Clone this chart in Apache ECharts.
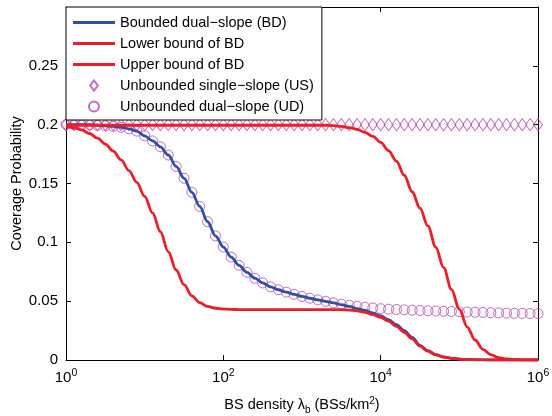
<!DOCTYPE html>
<html>
<head>
<meta charset="utf-8">
<script src="https://cdn.jsdelivr.net/npm/echarts@6/dist/echarts.min.js"></script>
<style>
  html, body { margin: 0; padding: 0; background: #fff; }
  #chart { width: 552px; height: 416px; }
</style>
</head>
<body>
<div id="chart"></div>
<script>
// BS density grid, as log10 exponents (one point every 0.1 decade)
const densityExp = [
  0, 0.1, 0.2, 0.3, 0.4, 0.5, 0.6, 0.7, 0.8, 0.9,
  1, 1.1, 1.2, 1.3, 1.4, 1.5, 1.6, 1.7, 1.8, 1.9,
  2, 2.1, 2.2, 2.3, 2.4, 2.5, 2.6, 2.7, 2.8, 2.9,
  3, 3.1, 3.2, 3.3, 3.4, 3.5, 3.6, 3.7, 3.8, 3.9,
  4, 4.1, 4.2, 4.3, 4.4, 4.5, 4.6, 4.7, 4.8, 4.9,
  5, 5.1, 5.2, 5.3, 5.4, 5.5, 5.6, 5.7, 5.8, 5.9,
  6
];

const boundedDual = [
  0.2, 0.2, 0.2, 0.2, 0.1995, 0.199, 0.1985, 0.1978, 0.1965, 0.1945,
  0.1905, 0.1862, 0.1812, 0.1742, 0.1645, 0.1545, 0.1425, 0.1305, 0.1175, 0.1055,
  0.096, 0.0875, 0.0805, 0.0745, 0.0695, 0.0655, 0.0622, 0.0597, 0.0577, 0.0558,
  0.054, 0.0525, 0.0511, 0.0498, 0.0486, 0.047, 0.0455, 0.0437, 0.0422, 0.04,
  0.0375, 0.0343, 0.03, 0.025, 0.0192, 0.0125, 0.008, 0.0046, 0.0026, 0.0014,
  0.0008, 0.0004, 0.0002, 0.0001, 0, 0, 0, 0, 0, 0,
  0
];

const lowerBound = [
  0.1985, 0.1975, 0.1955, 0.1925, 0.1885, 0.1835, 0.1775, 0.17, 0.161, 0.151,
  0.139, 0.125, 0.109, 0.092, 0.0765, 0.064, 0.0545, 0.0488, 0.0455, 0.044,
  0.0433, 0.043, 0.0428, 0.0428, 0.0428, 0.0428, 0.0428, 0.0428, 0.0428, 0.0428,
  0.0428, 0.0428, 0.0428, 0.0428, 0.0428, 0.0428, 0.0424, 0.0418, 0.0405, 0.0385,
  0.0362, 0.033, 0.0285, 0.0235, 0.018, 0.0118, 0.0075, 0.0044, 0.0025, 0.0014,
  0.0008, 0.0004, 0.0002, 0.0001, 0, 0, 0, 0, 0, 0,
  0
];

const upperBound = [
  0.1995, 0.1995, 0.1995, 0.1995, 0.1995, 0.1995, 0.1995, 0.1995, 0.1995, 0.1995,
  0.1995, 0.1995, 0.1995, 0.1995, 0.1995, 0.1995, 0.1995, 0.1995, 0.1995, 0.1995,
  0.1995, 0.1995, 0.1995, 0.1995, 0.1995, 0.1995, 0.1995, 0.1995, 0.1995, 0.1995,
  0.1995, 0.1995, 0.1995, 0.1995, 0.1992, 0.1985, 0.1975, 0.196, 0.1935, 0.19,
  0.185, 0.178, 0.169, 0.157, 0.143, 0.129, 0.114, 0.096, 0.0785, 0.06,
  0.043, 0.028, 0.017, 0.009, 0.0045, 0.002, 0.0009, 0.0004, 0.0001, 0,
  0
];

const unboundedSingle = [
  0.2, 0.2, 0.2, 0.2, 0.2, 0.2, 0.2, 0.2, 0.2, 0.2,
  0.2, 0.2, 0.2, 0.2, 0.2, 0.2, 0.2, 0.2, 0.2, 0.2,
  0.2, 0.2, 0.2, 0.2, 0.2, 0.2, 0.2, 0.2, 0.2, 0.2,
  0.2, 0.2, 0.2, 0.2, 0.2, 0.2, 0.2, 0.2, 0.2, 0.2,
  0.2, 0.2, 0.2, 0.2, 0.2, 0.2, 0.2, 0.2, 0.2, 0.2,
  0.2, 0.2, 0.2, 0.2, 0.2, 0.2, 0.2, 0.2, 0.2, 0.2,
  0.2
];

const unboundedDual = [
  0.2, 0.2, 0.2, 0.2, 0.1995, 0.199, 0.1985, 0.1978, 0.1965, 0.1945,
  0.1905, 0.1862, 0.1812, 0.1742, 0.1645, 0.1545, 0.1425, 0.1305, 0.1175, 0.1055,
  0.096, 0.0875, 0.0805, 0.0745, 0.0695, 0.0655, 0.0622, 0.0597, 0.0577, 0.0558,
  0.054, 0.0525, 0.0511, 0.0498, 0.0486, 0.0475, 0.0465, 0.0456, 0.0448, 0.0442,
  0.0436, 0.0432, 0.0429, 0.0426, 0.0423, 0.0421, 0.0418, 0.0416, 0.0414, 0.0412,
  0.041, 0.0408, 0.0406, 0.0404, 0.0402, 0.04, 0.0399, 0.0397, 0.0396, 0.0395,
  0.0394
];

const xTickValues = [1, 100, 10000, 1000000];
const yTickValues = [0, 0.05, 0.1, 0.15, 0.2, 0.25];

const FONT = 'Liberation Sans, Arial, sans-serif';
const RED = '#ee1c25';
const BLUE = '#2f4fa4';
const MAGENTA = '#b448b0';

// legend samples: flat bar for the lines, upright diamond for US
const LINE_ICON = 'path://M0,0 L42,0 L42,3 L0,3 Z';
const DIAMOND_ICON = 'path://M5,0 L10,6.5 L5,13 L0,6.5 Z';
const CIRCLE_ICON = 'path://M5,0 A5,5 0 1,1 4.99,0 Z';

const pairs = (vals) => vals.map((v, i) => [Math.pow(10, densityExp[i]), v]);

const myChart = echarts.init(document.getElementById('chart'), null, { renderer: 'canvas' });

const lineSeries = (name, vals, color) => ({
  name,
  type: 'line',
  data: pairs(vals),
  showSymbol: false,
  symbol: 'none',
  smooth: 0.35,
  smoothMonotone: 'x',
  lineStyle: { color, width: 2.8 },
  itemStyle: { color },
  xAxisIndex: 0,
  yAxisIndex: 0
});

const option = {
  animation: false,
  backgroundColor: '#fff',
  textStyle: { fontFamily: FONT },
  grid: { left: 66, right: 14, top: 7, bottom: 56, containLabel: false, outerBoundsMode: 'none' },
  legend: {
    orient: 'vertical',
    left: 66,
    top: 7,
    padding: [8, 8, 6, 7],
    itemWidth: 42,
    itemHeight: 10,
    itemGap: 6,
    backgroundColor: '#fff',
    borderColor: '#000',
    borderWidth: 1,
    borderRadius: 0,
    textStyle: { fontFamily: FONT, fontSize: 14.5, color: '#000', lineHeight: 13.5 },
    data: [
      { name: 'Bounded dual−slope (BD)', icon: LINE_ICON },
      { name: 'Lower bound of BD', icon: LINE_ICON },
      { name: 'Upper bound of BD', icon: LINE_ICON },
      { name: 'Unbounded single−slope (US)', icon: DIAMOND_ICON },
      { name: 'Unbounded dual−slope (UD)', icon: CIRCLE_ICON }
    ]
  },
  xAxis: [
    {
      type: 'log',
      logBase: 10,
      min: 1,
      max: 1000000,
      position: 'bottom',
      name: '{t|BS density λ}{sub|b}{t| (BSs/km}{sup|2}{t|)}',
      nameLocation: 'middle',
      nameGap: 35,
      nameMoveOverlap: false,
      nameTextStyle: {
        rich: {
          t: { fontFamily: FONT, fontSize: 14.5, color: '#000' },
          sub: { fontFamily: FONT, fontSize: 10, color: '#000', padding: [10, 0, 0, 0] },
          sup: { fontFamily: FONT, fontSize: 10, color: '#000', padding: [0, 0, 8, 0] }
        }
      },
      axisLine: { show: true, lineStyle: { color: '#000', width: 1 } },
      axisTick: { show: true, inside: true, length: 5, customValues: xTickValues, lineStyle: { color: '#000' } },
      minorTick: { show: false },
      splitLine: { show: false },
      axisLabel: {
        customValues: xTickValues,
        margin: 8,
        formatter: (v) => '{b|10}{s|' + Math.round(Math.log10(v)) + '}',
        rich: {
          b: { fontFamily: FONT, fontSize: 15, color: '#000' },
          s: { fontFamily: FONT, fontSize: 10.5, color: '#000', padding: [0, 0, 9, 0] }
        }
      }
    },
    {
      type: 'log',
      logBase: 10,
      min: 1,
      max: 1000000,
      position: 'top',
      axisLine: { show: true, onZero: false, lineStyle: { color: '#000', width: 1 } },
      axisTick: { show: true, inside: true, length: 5, customValues: xTickValues, lineStyle: { color: '#000' } },
      axisLabel: { show: false },
      splitLine: { show: false }
    }
  ],
  yAxis: [
    {
      type: 'value',
      min: 0,
      max: 0.3,
      interval: 0.05,
      position: 'left',
      name: 'Coverage Probability',
      nameLocation: 'middle',
      nameGap: 42,
      nameMoveOverlap: false,
      nameTextStyle: { fontFamily: FONT, fontSize: 14.5, color: '#000' },
      axisLine: { show: true, lineStyle: { color: '#000', width: 1 } },
      axisTick: { show: true, inside: true, length: 5, lineStyle: { color: '#000' } },
      splitLine: { show: false },
      axisLabel: {
        margin: 8,
        fontFamily: FONT,
        fontSize: 15,
        color: '#000',
        formatter: (v) => (yTickValues.some(t => Math.abs(t - v) < 1e-9) ? String(+v.toFixed(2)) : '')
      }
    },
    {
      type: 'value',
      min: 0,
      max: 0.3,
      interval: 0.05,
      position: 'right',
      axisLine: { show: true, onZero: false, lineStyle: { color: '#000', width: 1 } },
      axisTick: { show: true, inside: true, length: 5, lineStyle: { color: '#000' } },
      axisLabel: { show: false },
      splitLine: { show: false }
    }
  ],
  series: [
    lineSeries('Bounded dual−slope (BD)', boundedDual, BLUE),
    lineSeries('Lower bound of BD', lowerBound, RED),
    lineSeries('Upper bound of BD', upperBound, RED),
    {
      name: 'Unbounded single−slope (US)',
      type: 'scatter',
      data: pairs(unboundedSingle),
      symbol: 'diamond',
      symbolSize: [9, 12],
      itemStyle: { color: 'rgba(0,0,0,0)', borderColor: MAGENTA, borderWidth: 1 }
    },
    {
      name: 'Unbounded dual−slope (UD)',
      type: 'scatter',
      data: pairs(unboundedDual),
      symbol: 'circle',
      symbolSize: 10,
      itemStyle: { color: 'rgba(0,0,0,0)', borderColor: MAGENTA, borderWidth: 1 }
    }
  ]
};

myChart.setOption(option);
window.addEventListener('resize', () => myChart.resize());
</script>
</body>
</html>
